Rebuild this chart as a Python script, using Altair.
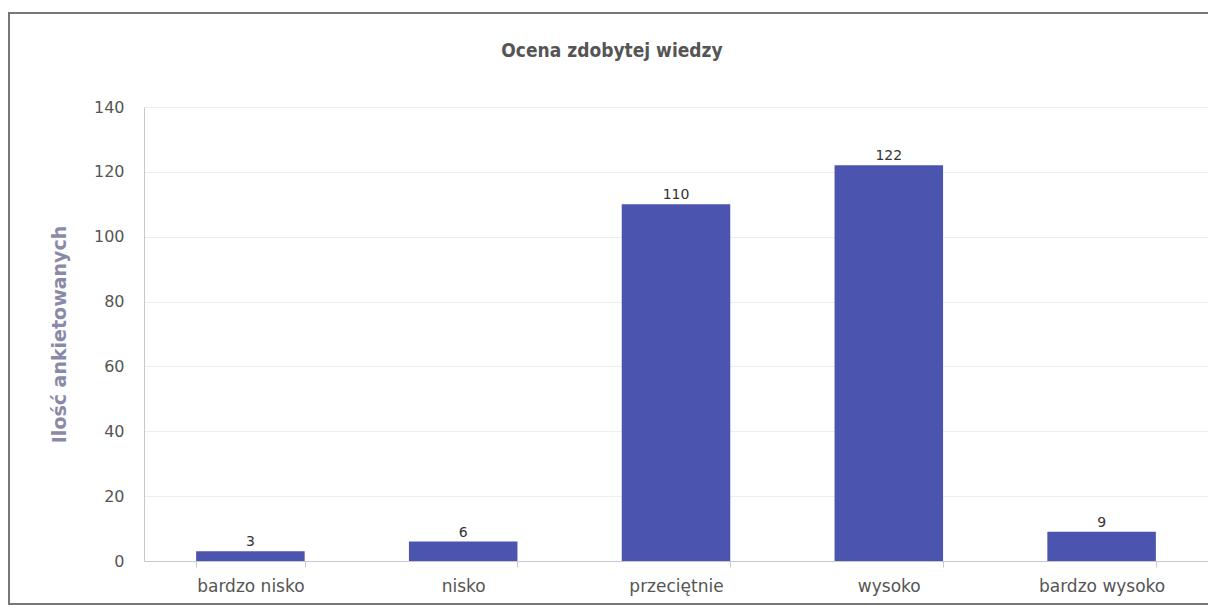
import altair as alt
import pandas as pd

categories = ["bardzo nisko", "nisko", "przeciętnie", "wysoko", "bardzo wysoko"]
counts = [3, 6, 110, 122, 9]
y_ticks = [0, 20, 40, 60, 80, 100, 120, 140]
chart_title = "Ocena zdobytej wiedzy"

df = pd.DataFrame({"kat": categories, "n": counts})

W, H = 1064, 454

x_enc = alt.X(
    "kat:N",
    sort=categories,
    title=None,
    scale=alt.Scale(paddingInner=0.49, paddingOuter=0.245),
    axis=alt.Axis(
        labelAngle=0,
        labelFontSize=17,
        labelColor="#555555",
        labelFont="DejaVu Sans",
        labelPadding=11,
        tickBand="extent",
        tickColor="#c8c8d0",
        tickSize=6,
        domainColor="#c8c8d0",
        grid=False,
    ),
)

y_enc = alt.Y(
    "n:Q",
    title="Ilość ankietowanych",
    scale=alt.Scale(domain=[0, 140], nice=False),
    axis=alt.Axis(
        values=y_ticks,
        labelFontSize=16,
        labelColor="#555555",
        labelFont="DejaVu Sans",
        labelPadding=20,
        ticks=False,
        domainColor="#c8c8d0",
        gridColor="#ececf4",
        titleFontSize=19,
        titleFont="DejaVu Sans",
        titleFontWeight="bold",
        titleColor="#8a8aa8",
        titlePadding=24,
    ),
)

bars = alt.Chart(df).mark_bar(color="#4b55b0").encode(x=x_enc, y=y_enc)

labels = alt.Chart(df).mark_text(
    dy=-9, fontSize=14, color="#333333", font="DejaVu Sans"
).encode(x=alt.X("kat:N", sort=categories), y="n:Q", text="n:Q")

frame = alt.Chart(df).mark_rect(
    fill=None, stroke="#777777", strokeWidth=2, clip=False
).encode(
    x=alt.value(-135), x2=alt.value(W + 20),
    y=alt.value(-94), y2=alt.value(H + 43),
)

title_df = pd.DataFrame({"t": [chart_title]})
title = alt.Chart(title_df).mark_text(
    fontSize=19,
    font="DejaVu Sans Condensed, Liberation Sans, sans-serif",
    fontWeight="bold",
    color="#555555",
    baseline="middle",
    align="center",
    clip=False,
).encode(x=alt.value(468), y=alt.value(-56), text="t:N")

chart = alt.layer(frame, bars, labels, title).properties(
    width=W,
    height=H,
    autosize=alt.AutoSizeParams(type="none"),
    padding={"left": 136, "top": 99, "right": 0, "bottom": 47},
).configure_view(stroke="#dcdce4").configure(background="white")

chart.save("out.html", embed_options={"renderer": "svg", "actions": False})
